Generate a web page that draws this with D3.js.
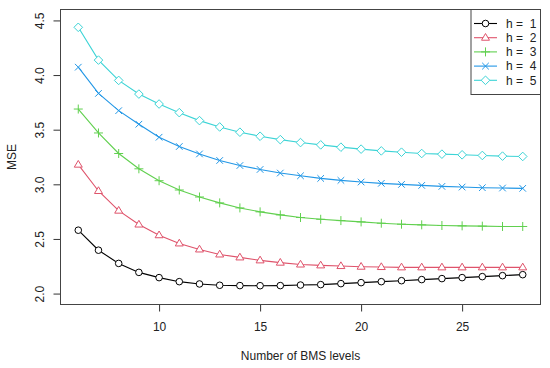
<!DOCTYPE html>
<html>
<head>
<meta charset="utf-8">
<script src="https://cdn.jsdelivr.net/npm/d3@7"></script>
<style>
html,body{margin:0;padding:0;background:#fff;}
svg{display:block;font-family:"Liberation Sans",Arial,Helvetica,sans-serif;}
</style>
</head>
<body>
<svg id="chart" width="550" height="368"></svg>
<script>
const levels = [6,7,8,9,10,11,12,13,14,15,16,17,18,19,20,21,22,23,24,25,26,27,28];
const h1 = [2.58,2.397,2.276,2.194,2.146,2.109,2.088,2.076,2.073,2.072,2.073,2.078,2.082,2.091,2.100,2.109,2.118,2.128,2.137,2.146,2.155,2.164,2.173];
const h2 = [3.18,2.939,2.759,2.632,2.534,2.459,2.404,2.358,2.331,2.304,2.283,2.266,2.258,2.252,2.246,2.243,2.240,2.240,2.240,2.240,2.240,2.240,2.240];
const h3 = [3.689,3.470,3.282,3.142,3.033,2.948,2.884,2.830,2.784,2.748,2.720,2.696,2.680,2.668,2.656,2.644,2.635,2.629,2.623,2.620,2.617,2.614,2.614];
const h4 = [4.072,3.832,3.674,3.550,3.431,3.346,3.278,3.218,3.172,3.136,3.103,3.078,3.054,3.036,3.021,3.009,2.999,2.990,2.981,2.975,2.969,2.966,2.963];
const h5 = [4.437,4.137,3.951,3.826,3.735,3.656,3.583,3.525,3.477,3.440,3.409,3.382,3.361,3.340,3.322,3.306,3.294,3.282,3.276,3.270,3.264,3.258,3.255];
const seriesNames = ["h =  1","h =  2","h =  3","h =  4","h =  5"];
const seriesColors = ["#000000","#DF536B","#61D04F","#2297E6","#3CD4D6"];
const seriesShapes = ["circle","triangle","plus","cross","diamond"];
const xTicks = [10,15,20,25];
const yTicks = [2.0,2.5,3.0,3.5,4.0,4.5];
const xLabel = "Number of BMS levels";
const yLabel = "MSE";

const allSeries = [h1,h2,h3,h4,h5];
const svg = d3.select("#chart");
const L = 60.5, R = 540.5, T = 9.5, B = 304.5;

const x = d3.scaleLinear().domain([5.12, 28.88]).range([L, R]);
const y = d3.scaleLinear().domain([1.9, 4.6]).range([B, T]);

// axes
const xAxis = svg.append("g").attr("transform", `translate(0,${B})`)
  .call(d3.axisBottom(x).tickValues(xTicks).tickSize(7).tickPadding(11).tickFormat(d3.format("d")));
xAxis.select(".domain").remove();
xAxis.selectAll("line").attr("stroke","#333");
xAxis.selectAll("text").attr("font-size","12px").attr("fill","#222").attr("font-family","Liberation Sans, Arial, sans-serif");

const yAxis = svg.append("g").attr("transform", `translate(${L},0)`)
  .call(d3.axisLeft(y).tickValues(yTicks).tickSize(7).tickFormat(d3.format(".1f")));
yAxis.select(".domain").remove();
yAxis.selectAll("line").attr("stroke","#333");
yAxis.selectAll("text")
  .attr("font-size","12px").attr("fill","#222").attr("font-family","Liberation Sans, Arial, sans-serif")
  .attr("text-anchor","middle").attr("dy",null).attr("x",null)
  .attr("transform","translate(-21,0) rotate(-90)")
  .attr("dy","0.35em");

// box
svg.append("rect").attr("x",L).attr("y",T).attr("width",R-L).attr("height",B-T)
  .attr("fill","none").attr("stroke","#444").attr("stroke-width",1);

// labels
svg.append("text").attr("x",(L+R)/2).attr("y",359.5).attr("text-anchor","middle")
  .attr("font-size","12px").attr("fill","#222").text(xLabel);
svg.append("text").attr("transform",`translate(15.5,${(T+B)/2}) rotate(-90)`).attr("text-anchor","middle")
  .attr("font-size","12px").attr("fill","#222").text(yLabel);

function drawMarker(g, shape, cx, cy, color){
  const r = 3.3;
  if(shape==="circle"){
    g.append("circle").attr("cx",cx).attr("cy",cy).attr("r",r).attr("fill","white").attr("stroke",color).attr("stroke-width",1);
  } else if(shape==="triangle"){
    const s = 4.2;
    g.append("path").attr("d",`M${cx},${cy-s}L${cx+s*0.95},${cy+s*0.6}L${cx-s*0.95},${cy+s*0.6}Z`).attr("fill","white").attr("stroke",color).attr("stroke-width",1);
  } else if(shape==="plus"){
    const s = 4.5;
    g.append("path").attr("d",`M${cx-s},${cy}H${cx+s}M${cx},${cy-s}V${cy+s}`).attr("stroke",color).attr("stroke-width",1).attr("fill","none");
  } else if(shape==="cross"){
    const s = 3.3;
    g.append("path").attr("d",`M${cx-s},${cy-s}L${cx+s},${cy+s}M${cx-s},${cy+s}L${cx+s},${cy-s}`).attr("stroke",color).attr("stroke-width",1).attr("fill","none");
  } else if(shape==="diamond"){
    const s = 4.3;
    g.append("path").attr("d",`M${cx},${cy-s}L${cx+s},${cy}L${cx},${cy+s}L${cx-s},${cy}Z`).attr("fill","white").attr("stroke",color).attr("stroke-width",1);
  }
}

const line = d3.line().x((d,i)=>x(levels[i])).y(d=>y(d));
allSeries.forEach((vals, si) => {
  const g = svg.append("g");
  g.append("path").datum(vals).attr("d",line).attr("fill","none").attr("stroke",seriesColors[si]).attr("stroke-width",1.1);
  vals.forEach((v,i)=>drawMarker(g, seriesShapes[si], x(levels[i]), y(v), seriesColors[si]));
});

// legend
const lg = svg.append("g");
lg.append("rect").attr("x",471).attr("y",T).attr("width",R-471).attr("height",85)
  .attr("fill","white").attr("stroke","#444").attr("stroke-width",1);
seriesNames.forEach((name, i) => {
  const cy = 23.5 + i*14.2;
  lg.append("line").attr("x1",474).attr("x2",497).attr("y1",cy).attr("y2",cy).attr("stroke",seriesColors[i]).attr("stroke-width",1.1);
  drawMarker(lg, seriesShapes[i], 485.5, cy, seriesColors[i]);
  lg.append("text").attr("x",506).attr("y",cy).attr("dy","0.35em").attr("font-size","12px").attr("fill","#222")
    .attr("xml:space","preserve").style("white-space","pre").text(name);
});
</script>
</body>
</html>
